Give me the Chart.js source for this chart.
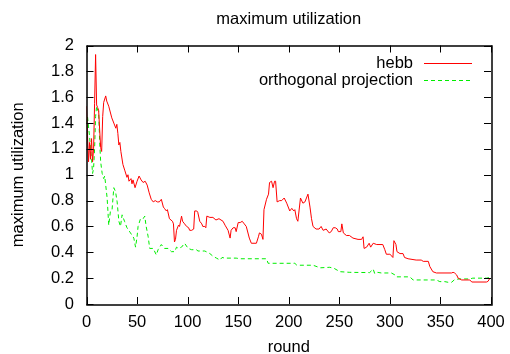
<!DOCTYPE html>
<html>
<head>
<meta charset="utf-8">
<script src="https://cdn.jsdelivr.net/npm/chart.js@4.4.1/dist/chart.umd.min.js"></script>
<style>
  html, body { margin: 0; padding: 0; background: #fff; }
</style>
</head>
<body>
<canvas id="utilCanvas" width="510" height="354"></canvas>
<script>
// hebb run
var hebbRound = [0, 1, 2, 3, 4, 5, 6, 7, 8, 9, 10, 11, 12, 13, 14, 15, 16, 17, 19, 20,
  22, 24, 25, 27, 29, 30, 31, 32, 33, 34, 36, 38, 40, 41, 42, 44, 45, 46, 48, 50,
  52, 54, 56, 58, 60, 62, 64, 66, 68, 70, 72, 74, 76, 77, 79, 80, 82, 85, 86, 87,
  88, 89, 91, 92, 94, 95, 97, 99, 101, 102, 104, 106, 107, 109, 110, 112, 114, 115, 117, 118,
  119, 122, 125, 128, 131, 135, 137, 140, 142, 143, 145, 147, 148, 150, 152, 154, 156, 158, 161, 163,
  168, 170, 171, 173, 174.5, 175.5, 178, 180, 181, 183, 184.5, 186, 187, 188.5, 191, 193, 195.5, 198, 201, 203,
  205, 206, 207.7, 209, 211.6, 214, 216, 219, 221, 222.5, 224, 227, 230, 232, 234, 237, 240, 242, 244, 246,
  248, 249, 251.5, 252.5, 254, 257, 260, 263.5, 268.5, 272, 273.5, 274.5, 277, 279.5, 281, 283.5, 287, 293, 295, 296.5,
  300, 302, 303, 304, 306, 307, 310, 313, 314.5, 318, 326, 331, 333, 338, 339.5, 342.5, 346, 361, 362.5, 364,
  366, 367.5, 371, 379, 381, 395.5, 397, 399];
var hebbValue = [1.53, 1.30, 1.10, 1.25, 1.12, 1.28, 1.10, 1.20, 1.55, 1.93, 1.54, 1.52, 1.50, 1.35, 1.21, 1.18, 1.45, 1.56, 1.61, 1.57,
  1.53, 1.47, 1.44, 1.40, 1.36, 1.39, 1.32, 1.23, 1.25, 1.18, 1.08, 1.03, 0.98, 1.00, 0.95, 0.97, 0.93, 0.96, 0.90, 0.95,
  0.99, 0.96, 0.94, 0.95, 0.92, 0.86, 0.81, 0.79, 0.80, 0.79, 0.79, 0.81, 0.75, 0.74, 0.72, 0.73, 0.66, 0.64, 0.62, 0.48,
  0.50, 0.57, 0.61, 0.60, 0.68, 0.64, 0.62, 0.60, 0.59, 0.57, 0.57, 0.58, 0.72, 0.72, 0.71, 0.64, 0.62, 0.60, 0.60, 0.59,
  0.68, 0.67, 0.67, 0.65, 0.66, 0.64, 0.61, 0.57, 0.51, 0.57, 0.59, 0.59, 0.56, 0.63, 0.63, 0.64, 0.62, 0.60, 0.51, 0.47,
  0.47, 0.52, 0.55, 0.54, 0.50, 0.73, 0.81, 0.85, 0.94, 0.95, 0.90, 0.95, 0.95, 0.79, 0.80, 0.80, 0.82, 0.78, 0.72, 0.74,
  0.72, 0.73, 0.66, 0.64, 0.82, 0.78, 0.79, 0.85, 0.75, 0.66, 0.60, 0.58, 0.58, 0.60, 0.57, 0.58, 0.55, 0.56, 0.59, 0.59,
  0.58, 0.56, 0.56, 0.62, 0.55, 0.53, 0.53, 0.51, 0.50, 0.50, 0.52, 0.43, 0.44, 0.47, 0.44, 0.47, 0.46, 0.46, 0.42, 0.385,
  0.385, 0.37, 0.36, 0.49, 0.46, 0.405, 0.39, 0.39, 0.36, 0.35, 0.34, 0.34, 0.33, 0.33, 0.29, 0.25, 0.24, 0.24, 0.245, 0.24,
  0.225, 0.20, 0.186, 0.186, 0.17, 0.17, 0.175, 0.20];

// orthogonal projection run
var orthoRound = [0, 1, 2, 3, 4, 5, 6, 7, 8, 9, 10, 11, 12, 13, 14, 15.5, 17, 18, 19, 20.4,
  22, 23.7, 25.3, 27, 28.7, 30.3, 32, 33.6, 35.2, 37.6, 40, 43.5, 46.8, 48.5, 50, 51, 53.4, 56, 57.6, 59,
  61, 62.5, 66, 69, 70.8, 74, 77, 80.7, 84, 87.3, 89, 91, 94, 97, 100.5, 104, 109, 110, 117, 122,
  125, 128.5, 132, 134, 137, 148, 152, 178, 179.6, 206, 208, 224, 231, 240.6, 245, 250.6, 260.4, 280, 283.5, 285,
  288, 291.6, 301.5, 305, 306.5, 319.7, 323, 346, 349.4, 354.3, 357.6, 361, 364.2, 369, 379, 382, 395.5, 399];
var orthoValue = [1.40, 1.45, 1.37, 1.30, 1.20, 1.12, 1.01, 1.05, 1.20, 1.45, 1.53, 1.50, 1.49, 1.26, 1.10, 1.01, 0.97, 0.99, 0.92, 0.82,
  0.61, 0.72, 0.73, 0.90, 0.87, 0.79, 0.64, 0.60, 0.69, 0.64, 0.59, 0.55, 0.51, 0.44, 0.52, 0.60, 0.66, 0.66, 0.68, 0.60,
  0.52, 0.43, 0.43, 0.38, 0.42, 0.46, 0.43, 0.43, 0.405, 0.405, 0.44, 0.43, 0.44, 0.47, 0.43, 0.42, 0.42, 0.41, 0.41, 0.39,
  0.37, 0.355, 0.34, 0.36, 0.355, 0.355, 0.35, 0.35, 0.315, 0.315, 0.30, 0.30, 0.28, 0.284, 0.275, 0.25, 0.245, 0.243, 0.27, 0.235,
  0.245, 0.24, 0.24, 0.225, 0.21, 0.21, 0.186, 0.186, 0.173, 0.173, 0.168, 0.168, 0.19, 0.194, 0.194, 0.20, 0.20, 0.205];

var seriesNames = ["hebb", "orthogonal projection"];

function toPoints(xs, ys) {
  return xs.map(function (x, i) { return { x: x, y: ys[i] }; });
}

Chart.defaults.font.family = "'Liberation Sans', Arial, sans-serif";
Chart.defaults.font.size = 16.5;
Chart.defaults.color = "#000";

// gnuplot-like frame with inward ticks on all four sides, plus the key
var framePlugin = {
  id: "frame",
  afterDraw: function (chart) {
    var ctx = chart.ctx;
    var a = chart.chartArea;
    var xs = chart.scales.x, ys = chart.scales.y;
    var tl = 7;
    ctx.save();
    ctx.strokeStyle = "#000";
    ctx.lineWidth = 1;
    ctx.beginPath();
    xs.ticks.forEach(function (t) {
      var px = Math.round(xs.getPixelForValue(t.value)) + 0.5;
      ctx.moveTo(px, a.bottom); ctx.lineTo(px, a.bottom - tl);
      ctx.moveTo(px, a.top); ctx.lineTo(px, a.top + tl);
    });
    ys.ticks.forEach(function (t) {
      var py = Math.round(ys.getPixelForValue(t.value)) + 0.5;
      ctx.moveTo(a.left, py); ctx.lineTo(a.left + tl, py);
      ctx.moveTo(a.right, py); ctx.lineTo(a.right - tl, py);
    });
    ctx.stroke();
    ctx.lineWidth = 1.5;
    ctx.strokeRect(Math.round(a.left), Math.round(a.top), Math.round(a.right - a.left), Math.round(a.bottom - a.top));

    // key, top right inside the plot
    ctx.font = "16.5px 'Liberation Sans', Arial, sans-serif";
    ctx.textAlign = "right";
    ctx.textBaseline = "middle";
    chart.data.datasets.forEach(function (ds, i) {
      var y = a.top + 17 + i * 17.5;
      ctx.fillStyle = "#000";
      ctx.fillText(ds.label, a.right - 78, y + 0.5);
      ctx.strokeStyle = ds.borderColor;
      ctx.lineWidth = 1;
      ctx.setLineDash(ds.borderDash || []);
      ctx.beginPath();
      ctx.moveTo(a.right - 67, Math.round(y) + 0.5);
      ctx.lineTo(a.right - 19, Math.round(y) + 0.5);
      ctx.stroke();
    });
    ctx.restore();
  }
};

window.onload = function () {
  var ctx = document.getElementById("utilCanvas").getContext("2d");
  new Chart(ctx, {
    type: "line",
    data: {
      datasets: [{
        label: seriesNames[0],
        data: toPoints(hebbRound, hebbValue),
        borderColor: "#ff0000",
        borderWidth: 1,
        pointRadius: 0,
        tension: 0
      }, {
        label: seriesNames[1],
        data: toPoints(orthoRound, orthoValue),
        borderColor: "#00ee00",
        borderWidth: 1,
        borderDash: [4, 3],
        pointRadius: 0,
        tension: 0
      }]
    },
    options: {
      responsive: false,
      animation: false,
      layout: { padding: { left: 0, right: 19, top: 0, bottom: 0 } },
      plugins: {
        legend: { display: false },
        tooltip: { enabled: false },
        title: {
          display: true,
          text: "maximum utilization",
          fullSize: false,
          font: { size: 16.5, weight: "normal" },
          padding: { top: 10, bottom: 15.7 }
        }
      },
      scales: {
        x: {
          type: "linear",
          min: 0,
          max: 400,
          grid: { display: false, drawTicks: false },
          border: { display: false },
          ticks: { stepSize: 50, padding: 9, maxRotation: 0 },
          title: { display: true, text: "round", padding: { top: 0, bottom: -3.6 } },
          afterFit: function (scale) {
            scale.height = 50;
            scale.paddingLeft = 0;
            scale.paddingRight = 0;
          }
        },
        y: {
          min: 0,
          max: 2,
          grid: { display: false, drawTicks: false },
          border: { display: false },
          ticks: {
            stepSize: 0.2,
            padding: 12.5,
            callback: function (v) { return String(Number(v.toFixed(1))); }
          },
          title: { display: true, text: "maximum utilization", padding: { top: 8.7, bottom: 0 } },
          afterFit: function (scale) { scale.width = 86.5; }
        }
      }
    },
    plugins: [framePlugin]
  });
};
</script>
</body>
</html>
